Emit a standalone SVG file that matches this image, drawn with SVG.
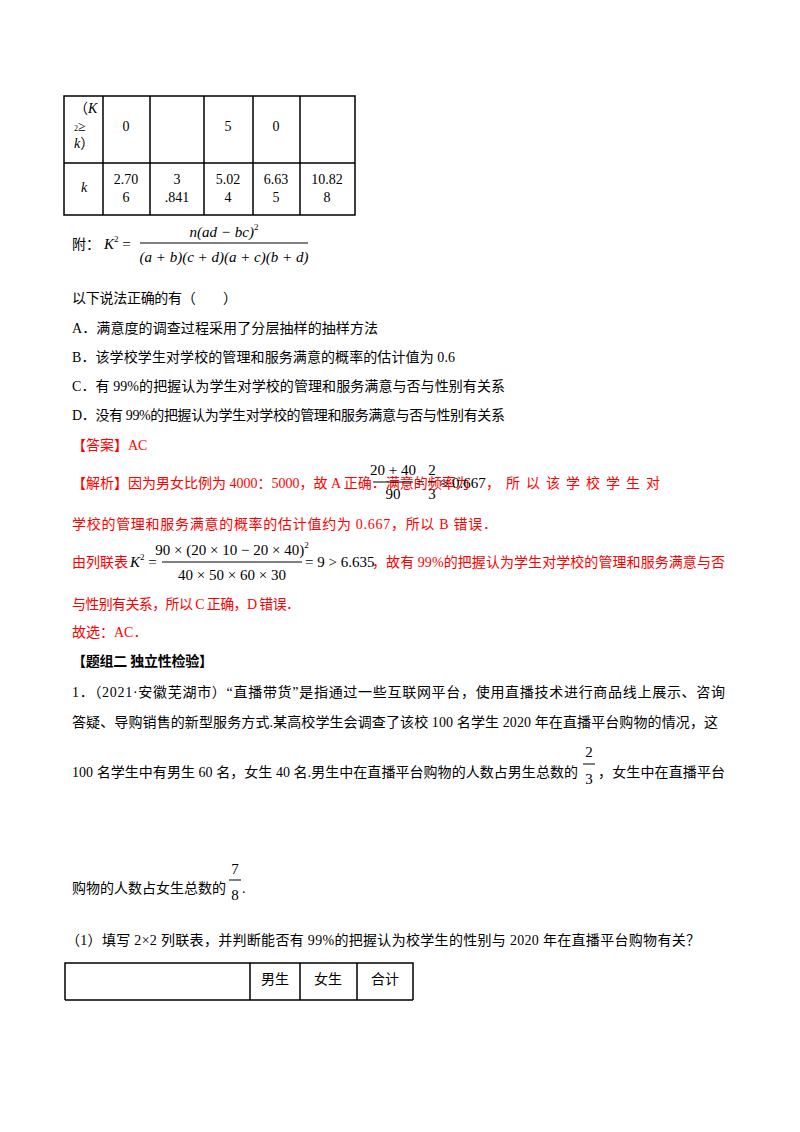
<svg xmlns="http://www.w3.org/2000/svg" width="800" height="1132" viewBox="0 0 800 1132">
<style>
.t{font-family:"Liberation Serif","Noto Sans CJK SC",serif;font-size:14px;fill:#000}
.r{fill:#ff0000}
.m{font-family:"Liberation Serif",serif;font-style:italic;font-size:15px}
.n{font-family:"Liberation Serif",serif;font-size:15px}
.c{text-anchor:middle}
.l{stroke:#000;stroke-width:1.5;fill:none}
.f{stroke:#000;stroke-width:1;fill:none}
</style>
<rect width="800" height="1132" fill="#fff"/>
<g id="table1">
<rect class="l" x="64" y="96" width="291" height="119"/>
<path class="l" d="M64 163H355M103 96V215M150 96V215M204 96V215M253 96V215M300 96V215"/>
<text class="t" x="74" y="113" font-size="12">（<tspan font-style="italic">K</tspan></text>
<text class="t" x="74" y="131" font-size="12"><tspan font-size="8">2</tspan>≥</text>
<text class="t" x="74" y="148" font-size="12"><tspan font-style="italic">k</tspan>）</text>
<text class="t c" x="126" y="131">0</text>
<text class="t c" x="228" y="131">5</text>
<text class="t c" x="276" y="131">0</text>
<text class="t c" x="84" y="192" font-style="italic">k</text>
<text class="t c" x="126" y="184">2.70</text><text class="t c" x="126" y="202">6</text>
<text class="t c" x="177" y="184">3</text><text class="t c" x="177" y="202">.841</text>
<text class="t c" x="228" y="184">5.02</text><text class="t c" x="228" y="202">4</text>
<text class="t c" x="276" y="184">6.63</text><text class="t c" x="276" y="202">5</text>
<text class="t c" x="327" y="184">10.82</text><text class="t c" x="327" y="202">8</text>
</g>
<g id="formula">
<text class="t" x="72" y="249">附：</text>
<text class="m" x="104" y="249">K<tspan font-size="9" dy="-7" font-style="normal">2</tspan><tspan dy="7" font-style="normal"> =</tspan></text>
<line class="f" x1="140" y1="243" x2="308" y2="243"/>
<text class="m c" x="224" y="237">n(ad − bc)<tspan font-size="9" dy="-7" font-style="normal">2</tspan></text>
<text class="m c" x="224" y="262">(a + b)(c + d)(a + c)(b + d)</text>
</g>
<g id="text">
<text class="t" x="72" y="303" textLength="165">以下说法正确的有（　　）</text>
<text class="t" x="72" y="333" textLength="306">A．满意度的调查过程采用了分层抽样的抽样方法</text>
<text class="t" x="72" y="362" textLength="383">B．该学校学生对学校的管理和服务满意的概率的估计值为 0.6</text>
<text class="t" x="72" y="391" textLength="433">C．有 99%的把握认为学生对学校的管理和服务满意与否与性别有关系</text>
<text class="t" x="72" y="420" textLength="433">D．没有 99%的把握认为学生对学校的管理和服务满意与否与性别有关系</text>
<text class="t r" x="72" y="450">【答案】AC</text>
<text class="t r" x="72" y="488" font-size="12">【解析】因为男女比例为 4000：5000，故 A 正确．满意的频率为</text>
<line class="f" x1="373" y1="482" x2="413" y2="482"/>
<text class="n c" x="393" y="475">20 + 40</text>
<text class="n c" x="393" y="499">90</text>
<text class="n" x="416" y="488">=</text>
<line class="f" x1="428" y1="482" x2="436" y2="482"/>
<text class="n c" x="432" y="475">2</text>
<text class="n c" x="432" y="499">3</text>
<text class="n" x="440" y="488">≈ 0.667</text>
<text class="t r" x="486" y="488" font-size="16" letter-spacing="6">，所以该学校学生对</text>
<text class="t r" x="72" y="529" textLength="425">学校的管理和服务满意的概率的估计值约为 0.667，所以 B 错误．</text>
<text class="t r" x="72" y="567" textLength="56">由列联表</text>
<text class="m" x="130" y="567">K<tspan font-size="9" dy="-7" font-style="normal">2</tspan><tspan dy="7" font-style="normal"> =</tspan></text>
<line class="f" x1="162" y1="562" x2="302" y2="562"/>
<text class="n c" x="232" y="555">90 × (20 × 10 − 20 × 40)<tspan font-size="9" dy="-7">2</tspan></text>
<text class="n c" x="232" y="580">40 × 50 × 60 × 30</text>
<text class="n" x="305" y="567">= 9 &gt; 6.635</text>
<text class="t r" x="372" y="567" textLength="353">，故有 99%的把握认为学生对学校的管理和服务满意与否</text>
<text class="t r" x="72" y="609" textLength="228">与性别有关系，所以 C 正确，D 错误．</text>
<text class="t r" x="72" y="637">故选：AC．</text>
<text class="t" x="72" y="666" font-weight="bold" textLength="141">【题组二  独立性检验】</text>
<text class="t" x="72" y="697" textLength="653">1．（2021·安徽芜湖市）“直播带货”是指通过一些互联网平台，使用直播技术进行商品线上展示、咨询</text>
<text class="t" x="72" y="727" textLength="646">答疑、导购销售的新型服务方式.某高校学生会调查了该校 100 名学生 2020 年在直播平台购物的情况，这</text>
<text class="t" x="72" y="777" textLength="506">100 名学生中有男生 60 名，女生 40 名.男生中在直播平台购物的人数占男生总数的</text>
<text class="n c" x="589" y="757" font-size="20">2</text>
<line class="f" x1="583" y1="764" x2="595" y2="764"/>
<text class="n c" x="589" y="784" font-size="20">3</text>
<text class="t" x="598" y="777" textLength="127">，女生中在直播平台</text>
<text class="t" x="72" y="893" textLength="154">购物的人数占女生总数的</text>
<text class="n c" x="235" y="874" font-size="20">7</text>
<line class="f" x1="229" y1="880" x2="241" y2="880"/>
<text class="n c" x="235" y="900" font-size="20">8</text>
<text class="t" x="242" y="893">.</text>
<text class="t" x="66" y="945" textLength="634">（1）填写 2×2 列联表，并判断能否有 99%的把握认为校学生的性别与 2020 年在直播平台购物有关？</text>
</g>
<g id="table2">
<path class="l" d="M65 1000V963H413V1000M65 1000H413M250 963V1000M300 963V1000M357 963V1000"/>
<text class="t c" x="275" y="984">男生</text>
<text class="t c" x="328" y="984">女生</text>
<text class="t c" x="385" y="984">合计</text>
</g>
</svg>
